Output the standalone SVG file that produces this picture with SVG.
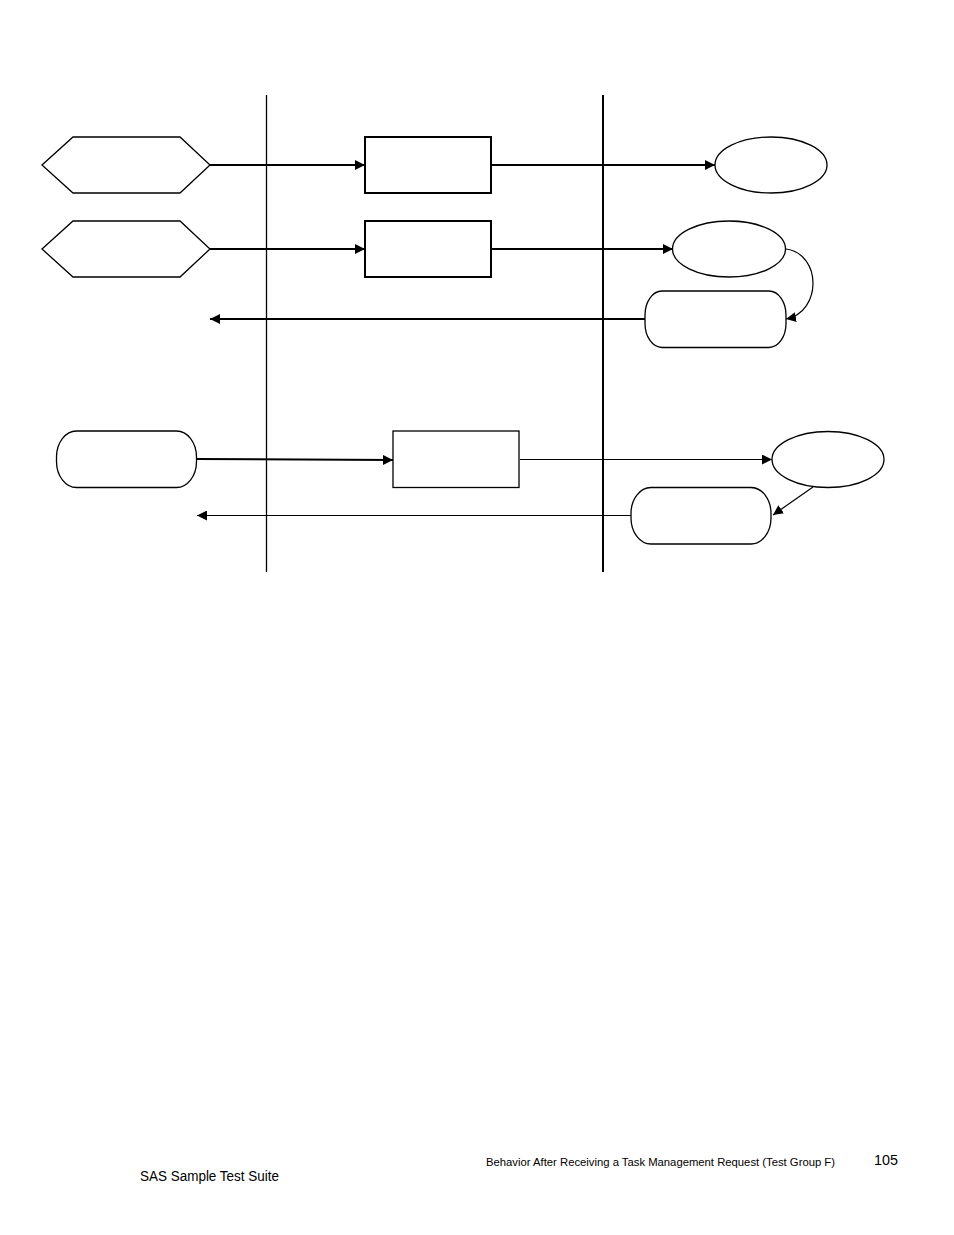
<svg xmlns="http://www.w3.org/2000/svg" width="954" height="1235" viewBox="0 0 954 1235">
<style>
.shape{fill:#fff;stroke:#000;stroke-width:2}
.thin{fill:#fff;stroke:#000;stroke-width:1.3}
.conn{fill:none;stroke:#000;stroke-width:2}
.conn1{fill:none;stroke:#000;stroke-width:1.2}
.lane{stroke:#000;fill:none}
.ft{font-family:"Liberation Sans",Arial,sans-serif;fill:#000}
</style>
<defs>
<marker id="ah" viewBox="0 0 10 10" refX="10" refY="5" markerWidth="10" markerHeight="10" markerUnits="userSpaceOnUse" orient="auto">
<path d="M0,0 L10,5 L0,10 Z" fill="#000"/>
</marker>
</defs>
<rect width="954" height="1235" fill="#fff"/>
<g id="lanes">
<line class="lane" x1="266.5" y1="95" x2="266.5" y2="572" stroke-width="1.3"/>
<line class="lane" x1="603" y1="95" x2="603" y2="572" stroke-width="2"/>
</g>
<g id="connectors">
<line class="conn" x1="210" y1="165" x2="365" y2="165" stroke="#333" marker-end="url(#ah)"/>
<line class="conn" x1="491" y1="165" x2="715" y2="165" marker-end="url(#ah)"/>
<line class="conn" x1="210" y1="249" x2="365" y2="249" marker-end="url(#ah)"/>
<line class="conn" x1="491" y1="249" x2="673" y2="249" marker-end="url(#ah)"/>
<path class="conn1" d="M786,249 C822,254 822,312 786,319" marker-end="url(#ah)"/>
<line class="conn" x1="645" y1="319" x2="210" y2="319" marker-end="url(#ah)"/>
<line class="conn" x1="197" y1="459" x2="393" y2="460" stroke="#444" marker-end="url(#ah)"/>
<line class="conn1" x1="520" y1="459.5" x2="772" y2="459.5" marker-end="url(#ah)"/>
<line class="conn1" x1="813" y1="487" x2="773" y2="515" marker-end="url(#ah)"/>
<line class="conn1" x1="631" y1="515.5" x2="197" y2="515.5" marker-end="url(#ah)"/>
</g>
<g id="hex1"><polygon class="thin" points="42,165 73,137 180,137 210,165 180,193 73,193"/></g>
<g id="hex2"><polygon class="thin" points="42,249 73,221 180,221 210,249 180,277 73,277"/></g>
<g id="box1"><rect class="shape" x="365" y="137" width="126" height="56"/></g>
<g id="box2"><rect class="shape" x="365" y="221" width="126" height="56"/></g>
<g id="ell1"><ellipse class="thin" cx="771" cy="165" rx="56" ry="28"/></g>
<g id="ell2"><ellipse class="thin" cx="729" cy="249" rx="56.5" ry="28"/></g>
<g id="rr1"><rect class="thin" x="645" y="291" width="141" height="56.5" rx="17" ry="24"/></g>
<g id="rr2"><rect class="thin" x="56.5" y="431" width="140" height="56.5" rx="20" ry="26"/></g>
<g id="box3"><rect class="thin" x="393" y="431" width="126" height="56.5"/></g>
<g id="ell3"><ellipse class="thin" cx="828" cy="459.5" rx="56" ry="28"/></g>
<g id="rr3"><rect class="thin" x="631" y="487.5" width="140" height="56.5" rx="20" ry="26"/></g>
<g id="footer">
<text class="ft" x="486" y="1166" font-size="11" textLength="349" lengthAdjust="spacingAndGlyphs">Behavior After Receiving a Task Management Request (Test Group F)</text>
<text class="ft" x="874" y="1165" font-size="14" textLength="24" lengthAdjust="spacingAndGlyphs">105</text>
<text class="ft" x="140" y="1181" font-size="14" textLength="139" lengthAdjust="spacingAndGlyphs">SAS Sample Test Suite</text>
</g>
</svg>
